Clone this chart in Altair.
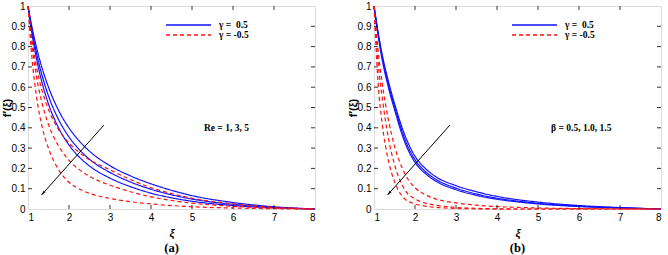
import altair as alt
import pandas as pd

# ---------------- data ----------------
xi = [1, 1.1, 1.2, 1.35, 1.5, 1.75, 2, 2.25, 2.5, 3, 3.5, 4, 4.5, 5, 6, 7, 8]

# panel (a): Re = 1, 3, 5
a_blue_re1 = [1, .893, .802, .690, .600, .484, .399, .335, .285, .213, .163, .124, .092, .066, .032, .011, 0]
a_blue_re3 = [1, .877, .775, .653, .557, .439, .355, .293, .245, .180, .133, .097, .070, .049, .023, .008, 0]
a_blue_re5 = [1, .860, .748, .617, .517, .398, .315, .256, .212, .152, .110, .078, .055, .038, .017, .006, 0]
a_red_re1 = [1, .828, .706, .579, .490, .390, .325, .278, .243, .193, .145, .105, .076, .053, .025, .009, 0]
a_red_re3 = [1, .802, .661, .516, .416, .309, .240, .194, .161, .117, .085, .060, .042, .029, .013, .005, 0]
a_red_re5 = [1, .736, .564, .400, .299, .192, .132, .099, .077, .052, .036, .025, .017, .011, .005, .0015, 0]

# panel (b): beta = 0.5, 1.0, 1.5
b_blue_b05 = [1, .87, .76, .63, .52, .365, .26, .20, .16, .115, .085, .062, .046, .034, .017, .007, 0]
b_blue_b10 = [1, .865, .75, .615, .505, .345, .243, .185, .147, .103, .074, .053, .039, .028, .014, .006, 0]
b_blue_b15 = [1, .855, .735, .60, .49, .33, .23, .175, .138, .095, .067, .048, .035, .025, .012, .005, 0]
b_red_b05 = [1, .78, .62, .44, .31, .175, .105, .07, .05, .03, .019, .012, .008, .005, .002, .001, 0]
b_red_b10 = [1, .72, .55, .35, .22, .095, .05, .029, .019, .008, .003, .001, 0, 0, 0, 0, 0]
b_red_b15 = [1, .62, .42, .24, .135, .05, .025, .014, .008, .003, .001, 0, 0, 0, 0, 0, 0]

gamma_labels = ["\u03b3 = \u00a00.5", "\u03b3 = -0.5"]
x_ticks = [1, 2, 3, 4, 5, 6, 7, 8]
y_ticks = [0, 0.1, 0.2, 0.3, 0.4, 0.5, 0.6, 0.7, 0.8, 0.9, 1.0]
inner_x_ticks = [2, 3, 4, 5, 6, 7]
inner_y_ticks = [0.1, 0.2, 0.3, 0.4, 0.5, 0.6, 0.7, 0.8, 0.9]

arrow_xi = [2.85, 1.33]
arrow_f = [0.413, 0.069]

W, H = 287, 203
FONT = "Liberation Serif"
BLUE = "#1010ff"
RED = "#ff1010"

AX_X = alt.Axis(values=x_ticks, format="d", title="\u03be", grid=False,
                labelOverlap=False, titleFontStyle="italic",
                ticks=False, tickSize=0, domain=False,
                labelPadding=3, titlePadding=5)
AX_Y = alt.Axis(values=y_ticks, format=".1~f", title="f\u2032(\u03be)",
                grid=False, labelOverlap=False, ticks=False, tickSize=0,
                domain=False, labelPadding=3, titlePadding=2,
                minExtent=14, maxExtent=14)


def panel(series, note, note_x, note_y, caption):
    rows = []
    for name, g, vals in series:
        for x, v in zip(xi, vals):
            rows.append({"xi": x, "f": v, "series": name, "gamma": g})
    df = pd.DataFrame(rows)

    xs = alt.Scale(domain=[1, 8], nice=False, zero=False)
    ys = alt.Scale(domain=[0, 1], nice=False, zero=False)

    def X(field):
        return alt.X(field, scale=xs, axis=AX_X)

    def Y(field):
        return alt.Y(field, scale=ys, axis=AX_Y)

    lines = alt.Chart(df).mark_line(strokeWidth=1.2, interpolate="monotone").encode(
        x=X("xi:Q"),
        y=Y("f:Q"),
        color=alt.Color("gamma:N",
                        scale=alt.Scale(domain=gamma_labels, range=[BLUE, RED]),
                        legend=None),
        strokeDash=alt.StrokeDash("gamma:N",
                                  scale=alt.Scale(domain=gamma_labels, range=[[1, 0], [4, 3]]),
                                  legend=None),
        detail="series:N",
    )

    # legend drawn inside the plot, top right
    leg_df = pd.DataFrame({"g": gamma_labels})
    leg_blue = alt.Chart(leg_df.iloc[[0]]).mark_rule(color=BLUE, strokeWidth=1.3).encode(
        x=alt.value(138), x2=alt.value(183), y=alt.value(19))
    leg_red = alt.Chart(leg_df.iloc[[1]]).mark_rule(color=RED, strokeWidth=1.3,
                                                    strokeDash=[4, 3]).encode(
        x=alt.value(138), x2=alt.value(183), y=alt.value(29))
    leg_t1 = alt.Chart(leg_df.iloc[[0]]).mark_text(
        font=FONT, fontSize=9.5, fontWeight="bold", align="left", baseline="middle",
        color="black").encode(x=alt.value(191), y=alt.value(19), text="g:N")
    leg_t2 = alt.Chart(leg_df.iloc[[1]]).mark_text(
        font=FONT, fontSize=9.5, fontWeight="bold", align="left", baseline="middle",
        color="black").encode(x=alt.value(191), y=alt.value(29), text="g:N")

    adf = pd.DataFrame({"xi": arrow_xi, "f": arrow_f, "o": [0, 1]})
    arrow = alt.Chart(adf).mark_line(color="black", strokeWidth=1).encode(
        x=X("xi:Q"), y=Y("f:Q"), order="o:Q")
    head = alt.Chart(adf.iloc[[1]]).mark_point(
        shape="M0,0 L0.45,1.7 L0,1.25 L-0.45,1.7 Z", size=36, filled=True,
        color="black", opacity=1, angle=222).encode(x=X("xi:Q"), y=Y("f:Q"))

    ndf = pd.DataFrame({"xi": [note_x], "f": [note_y], "t": [note]})
    text = alt.Chart(ndf).mark_text(font=FONT, fontSize=9.5, fontWeight="bold",
                                    align="left", baseline="middle", color="black").encode(
        x=X("xi:Q"), y=Y("f:Q"), text="t:N")

    txd = pd.DataFrame({"xi": inner_x_ticks})
    tyd = pd.DataFrame({"f": inner_y_ticks})
    tb = alt.Chart(txd).mark_rule(color="black", strokeWidth=0.8).encode(
        x=X("xi:Q"), y=alt.value(H), y2=alt.value(H - 4))
    tt = alt.Chart(txd).mark_rule(color="black", strokeWidth=0.8).encode(
        x=X("xi:Q"), y=alt.value(0), y2=alt.value(4))
    tl = alt.Chart(tyd).mark_rule(color="black", strokeWidth=0.8).encode(
        y=Y("f:Q"), x=alt.value(0), x2=alt.value(4))
    tr = alt.Chart(tyd).mark_rule(color="black", strokeWidth=0.8).encode(
        y=Y("f:Q"), x=alt.value(W - 4), x2=alt.value(W))

    return alt.layer(lines, arrow, head, text, leg_blue, leg_red, leg_t1, leg_t2,
                     tb, tt, tl, tr).properties(
        width=W, height=H,
        title=alt.TitleParams(caption, orient="bottom", font=FONT, fontSize=12.5,
                              fontWeight="bold", offset=4, frame="group"))


left = panel([
    ("a1", gamma_labels[0], a_blue_re1), ("a2", gamma_labels[0], a_blue_re3),
    ("a3", gamma_labels[0], a_blue_re5), ("a4", gamma_labels[1], a_red_re1),
    ("a5", gamma_labels[1], a_red_re3), ("a6", gamma_labels[1], a_red_re5)],
    "Re = 1, 3, 5", 5.29, 0.40, "(a)")
right = panel([
    ("b1", gamma_labels[0], b_blue_b05), ("b2", gamma_labels[0], b_blue_b10),
    ("b3", gamma_labels[0], b_blue_b15), ("b4", gamma_labels[1], b_red_b05),
    ("b5", gamma_labels[1], b_red_b10), ("b6", gamma_labels[1], b_red_b15)],
    "\u03b2 = 0.5, 1.0, 1.5", 5.32, 0.40, "(b)")

chart = alt.hconcat(left, right, spacing=28).properties(
    padding={"left": 0, "top": 0, "right": 0, "bottom": 0}
).configure_view(stroke="black", strokeWidth=1).configure_axis(
    grid=False, ticks=False, tickSize=0, domain=False, labelFont=FONT, labelFontSize=9,
    labelFontWeight="bold", labelColor="black", titleFont=FONT, titleFontSize=11,
    titleFontWeight="bold", titleColor="black"
).configure(background="white")

chart.save("out.html", embed_options={"renderer": "svg", "actions": False})
